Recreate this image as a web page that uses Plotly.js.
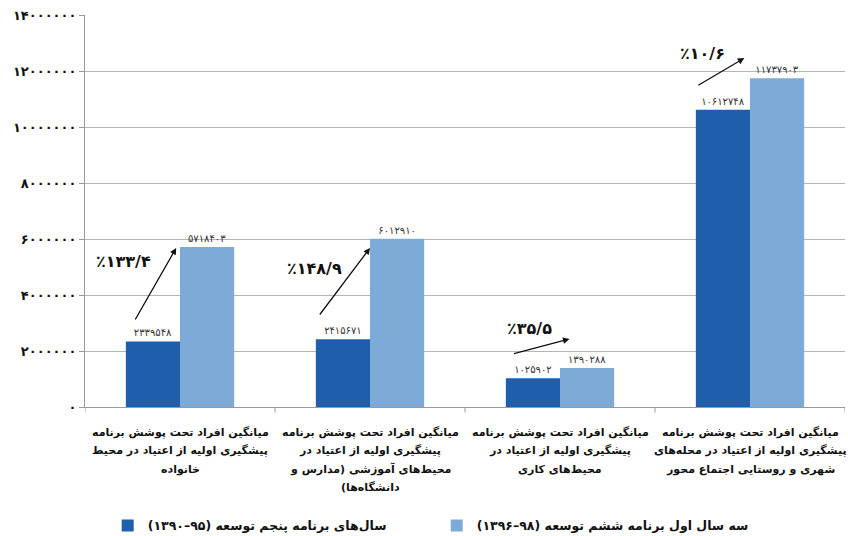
<!DOCTYPE html>
<html>
<head>
<meta charset="utf-8">
<script src="https://cdn.plot.ly/plotly-3.0.1.min.js"></script>
<style>html,body{margin:0;padding:0;background:#fff;}#chart{width:848px;height:536px;}</style>
</head>
<body>
<div id="chart"></div>
<script>
// ---- data ----
var categories = [
  "میانگین افراد تحت پوشش برنامه<br>پیشگیری اولیه از اعتیاد در محیط<br>خانواده",
  "میانگین افراد تحت پوشش برنامه<br>پیشگیری اولیه از اعتیاد در<br>محیط‌های آموزشی (مدارس و<br>دانشگاه‌ها)\u200F",
  "میانگین افراد تحت پوشش برنامه<br>پیشگیری اولیه از اعتیاد در<br>محیط‌های کاری",
  "میانگین افراد تحت پوشش برنامه<br>پیشگیری اولیه از اعتیاد در محله‌های<br>شهری و روستایی اجتماع محور"
];
var seriesNames = [
  "\u200Fسال‌های برنامه پنجم توسعه (۹۵–۱۳۹۰)\u200F",
  "\u200Fسه سال اول برنامه ششم توسعه (۹۸–۱۳۹۶)\u200F"
];
var fifthPlan = [2339548, 2415671, 1025902, 10612748];
var sixthPlan = [5718403, 6012910, 1390288, 11737903];
var growthLabels = ["٪۱۳۳/۴", "٪۱۴۸/۹", "٪۳۵/۵", "٪۱۰/۶"];
var yTickVals = [0, 2000000, 4000000, 6000000, 8000000, 10000000, 12000000, 14000000];

// ---- helpers ----
function toFa(n) {
  return String(n).replace(/\d/g, function (d) { return "۰۱۲۳۴۵۶۷۸۹"[+d]; });
}
var xIdx = categories.map(function (_, i) { return i; });
var FONT = "DejaVu Sans, sans-serif";

var traces = [
  {
    type: "bar", name: seriesNames[0], x: xIdx, y: fifthPlan, legend: "legend",
    text: fifthPlan.map(toFa), textposition: "outside", cliponaxis: false,
    textfont: {family: FONT, size: 10, color: "#333"},
    marker: {color: "#1E5EAB"}, hoverinfo: "y"
  },
  {
    type: "bar", name: seriesNames[1], x: xIdx, y: sixthPlan, legend: "legend2",
    text: sixthPlan.map(toFa), textposition: "outside", cliponaxis: false,
    textfont: {family: FONT, size: 10, color: "#333"},
    marker: {color: "#7EAAD8"}, hoverinfo: "y"
  }
];

// annotation placement (layout, relative to category index)
var arrowGeom = [
  {tx: -0.24, ty: 3.07e6, hx: -0.02, hy: 5.68e6, lx: -0.30, ly: 5.21e6},
  {tx: -0.27, ty: 3.25e6, hx: 0.00, hy: 5.68e6, lx: -0.29, ly: 4.96e6},
  {tx: -0.25, ty: 1.89e6, hx: 0.05, hy: 2.43e6, lx: -0.16, ly: 2.79e6},
  {tx: -0.28, ty: 11.46e6, hx: -0.03, hy: 12.46e6, lx: -0.25, ly: 12.64e6}
];
var annotations = [];
arrowGeom.forEach(function (g, i) {
  annotations.push({
    xref: "x", yref: "y", axref: "x", ayref: "y",
    x: i + g.hx, y: g.hy, ax: i + g.tx, ay: g.ty,
    text: "", showarrow: true, arrowhead: 2, arrowsize: 1, arrowwidth: 1.3,
    arrowcolor: "#111", standoff: 0, startstandoff: 0
  });
  annotations.push({
    xref: "x", yref: "y", x: i + g.lx, y: g.ly,
    text: "<b>" + growthLabels[i] + "</b>", showarrow: false,
    font: {family: FONT, size: 16, color: "#111"}
  });
});
// category labels under the axis: one annotation per line for tight control
var LINE_H = 18.5;
categories.forEach(function (c, i) {
  c.split("<br>").forEach(function (line, k) {
    annotations.push({
      xref: "x", yref: "paper", x: i, y: 0, yanchor: "middle",
      yshift: -25 - k * LINE_H,
      text: "<b>" + line + "</b>", showarrow: false, align: "center",
      font: {family: FONT, size: 11, color: "#111", weight: "bold"}
    });
  });
});

var legendFont = {family: FONT, size: 12.5, color: "#111", weight: "bold"};
var layout = {
  width: 848, height: 536,
  margin: {l: 85, r: 3, t: 15, b: 129},
  paper_bgcolor: "#fff", plot_bgcolor: "#fff",
  barmode: "group", bargap: 0.43, bargroupgap: 0,
  font: {family: FONT, color: "#111"},
  showlegend: true,
  legend: {
    orientation: "h", xref: "container", yref: "container",
    x: 0.127, xanchor: "left", y: 0.019, yanchor: "middle",
    font: legendFont
  },
  legend2: {
    orientation: "h", xref: "container", yref: "container",
    x: 0.515, xanchor: "left", y: 0.019, yanchor: "middle",
    font: legendFont
  },
  xaxis: {
    type: "linear", automargin: false,
    tickmode: "array", tickvals: xIdx, showticklabels: false,
    range: [-0.5, 3.5], showgrid: false, zeroline: false,
    showline: true, linecolor: "#9a9a9a", linewidth: 1,
    ticks: "", fixedrange: true
  },
  yaxis: {
    automargin: false,
    range: [0, 14000000], tickmode: "array", tickvals: yTickVals,
    ticktext: yTickVals.map(function (v) { return "<b>" + toFa(v) + "</b>"; }),
    showgrid: true, gridcolor: "#b5b5b5", gridwidth: 1,
    zeroline: false, showline: true, linecolor: "#9a9a9a", linewidth: 1,
    ticks: "outside", ticklen: 5, tickcolor: "#9a9a9a",
    tickfont: {family: FONT, size: 13, color: "#111"},
    fixedrange: true
  },
  shapes: [],
  annotations: annotations
};

// category boundary tick marks on the x axis (derived from category count)
for (var b = 0; b <= categories.length; b++) {
  layout.shapes.push({
    type: "line", xref: "x", yref: "paper", x0: b - 0.5, x1: b - 0.5, y0: 0, y1: -0.014,
    line: {color: "#9a9a9a", width: 1}
  });
}

Plotly.newPlot("chart", traces, layout, {displayModeBar: false, staticPlot: true});
</script>
</body>
</html>
